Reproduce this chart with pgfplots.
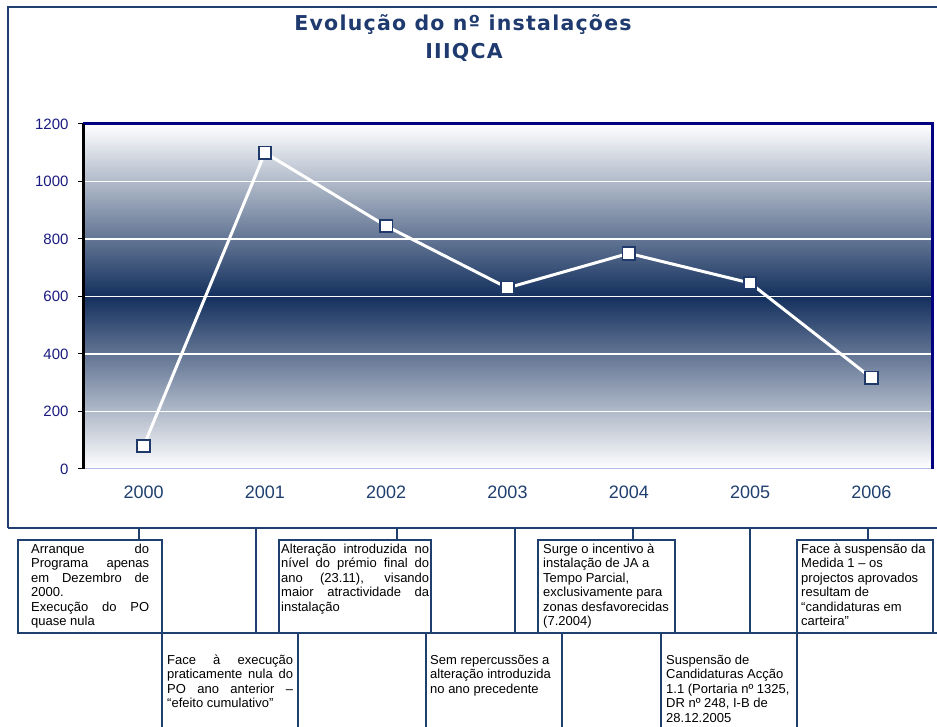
\documentclass[border=0pt]{standalone}
\usepackage{pgfplots}
\pgfplotsset{compat=1.18}
\usepackage{fontspec}
\setmainfont{Liberation Sans}
\newfontfamily\titlefont[LetterSpace=6]{DejaVu Sans}
\definecolor{framec}{HTML}{1F3F6F}
\definecolor{navyc}{HTML}{14305E}
\definecolor{ytickc}{HTML}{1A1A80}
\definecolor{xtickc}{HTML}{1F3F6F}
\definecolor{titlec}{HTML}{1F3A6E}
\definecolor{borderc}{HTML}{000080}
\definecolor{markc}{HTML}{1F3A6A}
\definecolor{lavc}{HTML}{B8B8E8}
\newcommand\ann{\fontsize{13}{14.5}\selectfont}
\newcommand\jl[2]{\makebox[#1pt][s]{#2}}
\begin{document}
\begin{tikzpicture}[x=1pt,y=1pt]
\useasboundingbox (0,0) rectangle (937,726);
\clip (0,0) rectangle (937,726);
% frame
\draw[framec, line width=2pt] (8,198) -- (8,719) -- (960,719);
\draw[framec, line width=2pt] (8,198) -- (960,198);
% title
\node[font=\titlefont\bfseries\fontsize{20.5}{24}\selectfont, text=titlec] at (463,701) {Evolução do nº instalações};
\node[font=\titlefont\bfseries\fontsize{20.5}{24}\selectfont, text=titlec] at (464,674) {IIIQCA};
\begin{axis}[at={(83pt,257pt)}, anchor=south west, width=849pt, height=345pt, scale only axis,
  xmin=-0.5, xmax=6.5, ymin=0, ymax=1200,
  xtick={0,1,2,3,4,5,6}, xticklabels={2000,2001,2002,2003,2004,2005,2006},
  ytick={0,200,400,600,800,1000,1200},
  ymajorgrids, grid style={white, line width=1.5pt},
  axis line style={draw=none},
  axis background/.style={top color=white, bottom color=white, middle color=navyc},
  tick align=outside, major tick length=5pt, ytick pos=left, xtick pos=bottom,
  y tick style={black, line width=1pt}, x tick style={draw=none},
  yticklabel style={font=\fontsize{15}{15}\selectfont, text=ytickc, xshift=-6pt},
  xticklabel style={font=\fontsize{18}{18}\selectfont, text=xtickc, yshift=-8pt},
  /pgf/number format/assume math mode=true, /pgf/number format/1000 sep={},
  clip=false]
\addplot[white, line width=3pt, mark=square*, mark size=6.3pt,
  mark options={fill=white, draw=markc, line width=1.8pt}]
  coordinates {(0,80) (1,1100) (2,845) (3,630) (4,750) (5,647) (6,317)};
\draw[lavc, line width=1pt] (rel axis cs:0,0) -- (rel axis cs:1,0);
\draw[borderc, line width=3pt] (rel axis cs:0,1) -- (rel axis cs:1,1) -- (rel axis cs:1,0);
\draw[black, line width=3pt] (rel axis cs:0,0) -- (rel axis cs:0,1);
\end{axis}
% connectors
\begin{scope}[framec, line width=2pt]
\draw (139,198) -- (139,186);
\draw (256,198) -- (256,93);
\draw (397,198) -- (397,186);
\draw (515,198) -- (515,93);
\draw (633,198) -- (633,186);
\draw (750,198) -- (750,93);
\draw (868,198) -- (868,186);
\draw (18,93) -- (960,93);
\draw (18,186) rectangle (162,93);
\draw (279,186) rectangle (431,93);
\draw (538,186) rectangle (675,93);
\draw (797,186) rectangle (933,93);
\draw (162,93) -- (162,-5); \draw (298,93) -- (298,-5);
\draw (426,93) -- (426,-5); \draw (562,93) -- (562,-5);
\draw (661,93) -- (661,-5); \draw (797,93) -- (797,-5);
\end{scope}
% annotation texts
\node[anchor=north west, inner sep=0, align=left, font=\ann] at (31,182.5)
 {\jl{118}{Arranque do}\\ \jl{118}{Programa apenas}\\ \jl{118}{em Dezembro de}\\ 2000.\\ \jl{118}{Execução do PO}\\ quase nula};
\node[anchor=north west, inner sep=0, align=left, font=\ann] at (167,71.5)
 {\jl{126}{Face à execução}\\ \jl{126}{praticamente nula do}\\ \jl{126}{PO ano anterior –}\\ “efeito cumulativo”};
\node[anchor=north west, inner sep=0, align=left, font=\ann] at (281,182.5)
 {\jl{148}{Alteração introduzida no}\\ \jl{148}{nível do prémio final do}\\ \jl{148}{ano (23.11), visando}\\ \jl{148}{maior atractividade da}\\ instalação};
\node[anchor=north west, inner sep=0, align=left, font=\ann] at (430,71.5)
 {Sem repercussões a\\ alteração introduzida\\ no ano precedente};
\node[anchor=north west, inner sep=0, align=left, font=\ann] at (543,182.5)
 {Surge o incentivo à\\ instalação de JA a\\ Tempo Parcial,\\ exclusivamente para\\ zonas desfavorecidas\\ (7.2004)};
\node[anchor=north west, inner sep=0, align=left, font=\ann] at (666,71.5)
 {Suspensão de\\ Candidaturas Acção\\ 1.1 (Portaria nº 1325,\\ DR nº 248, I-B de\\ 28.12.2005};
\node[anchor=north west, inner sep=0, align=left, font=\ann] at (801,182.5)
 {Face à suspensão da\\ Medida 1 – os\\ projectos aprovados\\ resultam de\\ “candidaturas em\\ carteira”};
\end{tikzpicture}
\end{document}
